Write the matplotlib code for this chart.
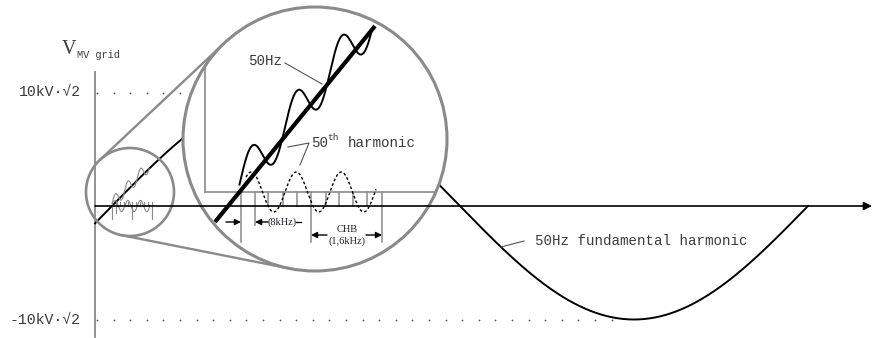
import numpy as np
import matplotlib.pyplot as plt
from matplotlib.patches import Circle

# Drawing units: one unit per output pixel, y grows downward
W, H = 876, 338

# ---- main 50 Hz waveform ----
axis_y = 206                 # zero-voltage level
v_scale = 113.5              # drawing units for 10kV·√2
level_values = [1.0, -1.0]
level_labels = ["10kV·√2", "-10kV·√2"]
fund_zero = 112              # rising zero crossing
fund_half = 348              # half period of the fundamental
fund_span = [95, 808]

# ---- zoom circles (cx, cy, r) ----
small_circle = (130, 192, 44)
big_circle = (315, 139, 132)

# ---- magnified view ----
zoom_line_x = [215, 375]     # 50 Hz segment drawn as a straight line
zoom_line_y0 = 222
zoom_line_slope = -1.225
harm_base_y = 192            # baseline of the 50th harmonic
harm_period = 45
harm_phase_x = 240
harm_amp = 20                # dotted harmonic amplitude
sum_amp = 22                 # harmonic riding on the 50 Hz segment
sum_offset = 9
sum_span = [239.5, 372]
harm_span = [246, 376]
tick_x = [241, 255, 268, 283, 297, 311, 326, 339, 353, 367, 382]
tick_end = [242, 225, 206, 206, 206, 242, 206, 206, 206, 206, 242]

GRAY = "#8a8a8a"
TXT = "#3a3a3a"
DIM = "#1f1f2a"
MONO = ["Liberation Mono", "DejaVu Sans Mono"]
SERIF = ["Liberation Serif", "DejaVu Serif"]

fig = plt.figure(figsize=(W / 100, H / 100), dpi=100)
ax = fig.add_axes([0, 0, 1, 1])
ax.set_xlim(0, W)
ax.set_ylim(H, 0)
ax.axis("off")


def fundamental(x):
    return axis_y - v_scale * np.sin(np.pi * (x - fund_zero) / fund_half)


def zoom_line(x):
    return zoom_line_y0 + zoom_line_slope * (x - zoom_line_x[0])


def harm_phase(x):
    return 2 * np.pi * (x - harm_phase_x) / harm_period


def summed(x):
    return zoom_line(x) - sum_offset - sum_amp * np.sin(harm_phase(x))


def harmonic(x):
    return harm_base_y - harm_amp * np.sin(harm_phase(x))


# ---- axes ----
ax.plot([95, 95], [72, 337], color=GRAY, lw=1.3, zorder=1)
ax.annotate("", xy=(872, axis_y), xytext=(95, axis_y),
            arrowprops=dict(arrowstyle="-|>", color="k", lw=1.2,
                            mutation_scale=12, shrinkA=0, shrinkB=0),
            zorder=8)

# dotted peak levels
for val, lab, xend in zip(level_values, level_labels, [182, 612]):
    yy = axis_y - val * v_scale
    xs = np.arange(97, xend, 16.6)
    ax.plot(xs, np.full_like(xs, yy), "o", ms=1.3, color="#555555",
            mec="none", zorder=1)
    ax.text(81, yy, lab, family=MONO, fontsize=10.7, color=TXT,
            ha="right", va="center")

ax.text(69, 49, "V", family=SERIF, fontsize=14.5, color=TXT,
        ha="center", va="center")
ax.text(77, 55, "MV grid", family=MONO, fontsize=7.4, color=TXT,
        ha="left", va="center")

# fundamental
xf = np.linspace(fund_span[0], fund_span[1], 800)
ax.plot(xf, fundamental(xf), color="k", lw=1.4, zorder=2)

# label for the fundamental
ax.plot([501, 524], [247, 241], color="#555555", lw=0.8, zorder=2)
ax.text(535, 241, "50Hz fundamental harmonic", family=MONO, fontsize=10.2,
        color=TXT, ha="left", va="center")

# ---- external tangent lines between the circles ----
c1 = np.array(small_circle[:2], float)
c2 = np.array(big_circle[:2], float)
r1, r2 = small_circle[2], big_circle[2]
d = c2 - c1
dist = np.hypot(*d)
base = np.arctan2(d[1], d[0])
beta = np.arccos((r2 - r1) / dist)
for sgn in (1, -1):
    n = np.array([np.cos(base + sgn * beta), np.sin(base + sgn * beta)])
    t1 = c1 - r1 * n
    t2 = c2 - r2 * n
    ax.plot([t1[0], t2[0]], [t1[1], t2[1]], color=GRAY, lw=1.7, zorder=2,
            solid_capstyle="round")

ax.add_patch(Circle(small_circle[:2], r1, fill=False, ec=GRAY, lw=1.9,
                    zorder=3))

# ---- miniature of the magnified content inside the small circle ----
# x is scaled around the zero crossing; deviations ride on the real curve
x_anchor = zoom_line_x[0] + (harm_base_y - zoom_line_y0) / zoom_line_slope
s_mini = 0.28


def mini_x(x):
    return fund_zero + s_mini * (np.asarray(x, float) - x_anchor)


xs_ = np.linspace(sum_span[0], sum_span[1], 300)
ax.plot(mini_x(xs_),
        fundamental(mini_x(xs_)) + s_mini * (summed(xs_) - zoom_line(xs_)),
        color=GRAY, lw=0.8, zorder=2)
xh_ = np.linspace(harm_span[0], harm_span[1], 300)
ax.plot(mini_x(xh_), axis_y + s_mini * (harmonic(xh_) - harm_base_y),
        color=GRAY, lw=0.8, zorder=2)
for tx, te in zip(tick_x, tick_end):
    ax.plot(mini_x([tx, tx]),
            [axis_y - s_mini * 14, axis_y + s_mini * (te - axis_y) * 1.3],
            color=GRAY, lw=0.8, zorder=2)

# ---- big magnifier ----
ax.add_patch(Circle(big_circle[:2], r2, fc="white", ec="none", zorder=4))

cx, cy = big_circle[:2]
x_left = 205
y_top = cy - np.sqrt(r2 ** 2 - (x_left - cx) ** 2)
x_right = cx + np.sqrt(r2 ** 2 - (harm_base_y - cy) ** 2)
ax.plot([x_left, x_left], [y_top, harm_base_y], color=GRAY, lw=1.2, zorder=5)
ax.plot([x_left, x_right], [harm_base_y, harm_base_y], color=GRAY, lw=1.2,
        zorder=5)
for tx, te in zip(tick_x, tick_end):
    ax.plot([tx, tx], [harm_base_y, te], color=GRAY, lw=1.1, zorder=5)

# 50th harmonic (dotted)
ax.plot(xh_, harmonic(xh_), color="k", lw=1.0, ls=(0, (2, 1.6)), zorder=6)
# 50 Hz segment with the harmonic riding on it
ax.plot(xs_, summed(xs_), color="k", lw=1.4, zorder=6)
xl = np.array(zoom_line_x, float)
ax.plot(xl, zoom_line(xl), color="k", lw=3.0, zorder=6,
        solid_capstyle="butt")

ax.add_patch(Circle(big_circle[:2], r2, fill=False, ec=GRAY, lw=2.2,
                    zorder=7))

# labels inside the magnifier
ax.plot([285, 322], [63, 84], color="#555555", lw=0.8, zorder=6)
ax.text(248, 61, "50Hz", family=MONO, fontsize=10.2, color=TXT,
        ha="left", va="center", zorder=6)
ax.plot([288, 309, 300], [147, 143, 165], color="#555555", lw=0.8, zorder=6)
ax.text(311, 143, "50", family=MONO, fontsize=10.2, color=TXT,
        ha="left", va="center", zorder=6)
ax.text(327.5, 138, "th", family=MONO, fontsize=6.8, color=TXT,
        ha="left", va="center", zorder=6)
ax.text(348, 143, "harmonic", family=MONO, fontsize=10.2, color=TXT,
        ha="left", va="center", zorder=6)

# dimension arrows
arrow_kw = dict(arrowstyle="-|>", color="k", lw=1.0, mutation_scale=9,
                shrinkA=0, shrinkB=0)
ax.annotate("", xy=(tick_x[0], 222), xytext=(226, 222), arrowprops=arrow_kw,
            zorder=6)
ax.annotate("", xy=(tick_x[1], 222), xytext=(268, 222), arrowprops=arrow_kw,
            zorder=6)
ax.text(282, 222, "(8kHz)", family=SERIF, fontsize=7.5, color=DIM,
        ha="center", va="center", zorder=6)
ax.plot([296, 301], [222, 222], color="k", lw=0.9, zorder=6)
ax.annotate("", xy=(tick_x[5], 235), xytext=(327, 235), arrowprops=arrow_kw,
            zorder=6)
ax.annotate("", xy=(tick_x[-1], 235), xytext=(366, 235), arrowprops=arrow_kw,
            zorder=6)
ax.text(347, 229.5, "CHB", family=SERIF, fontsize=7.5, color=DIM,
        ha="center", va="center", zorder=6)
ax.text(347, 241, "(1,6kHz)", family=SERIF, fontsize=7.5, color=DIM,
        ha="center", va="center", zorder=6)

fig.savefig("out.png", dpi=100)
